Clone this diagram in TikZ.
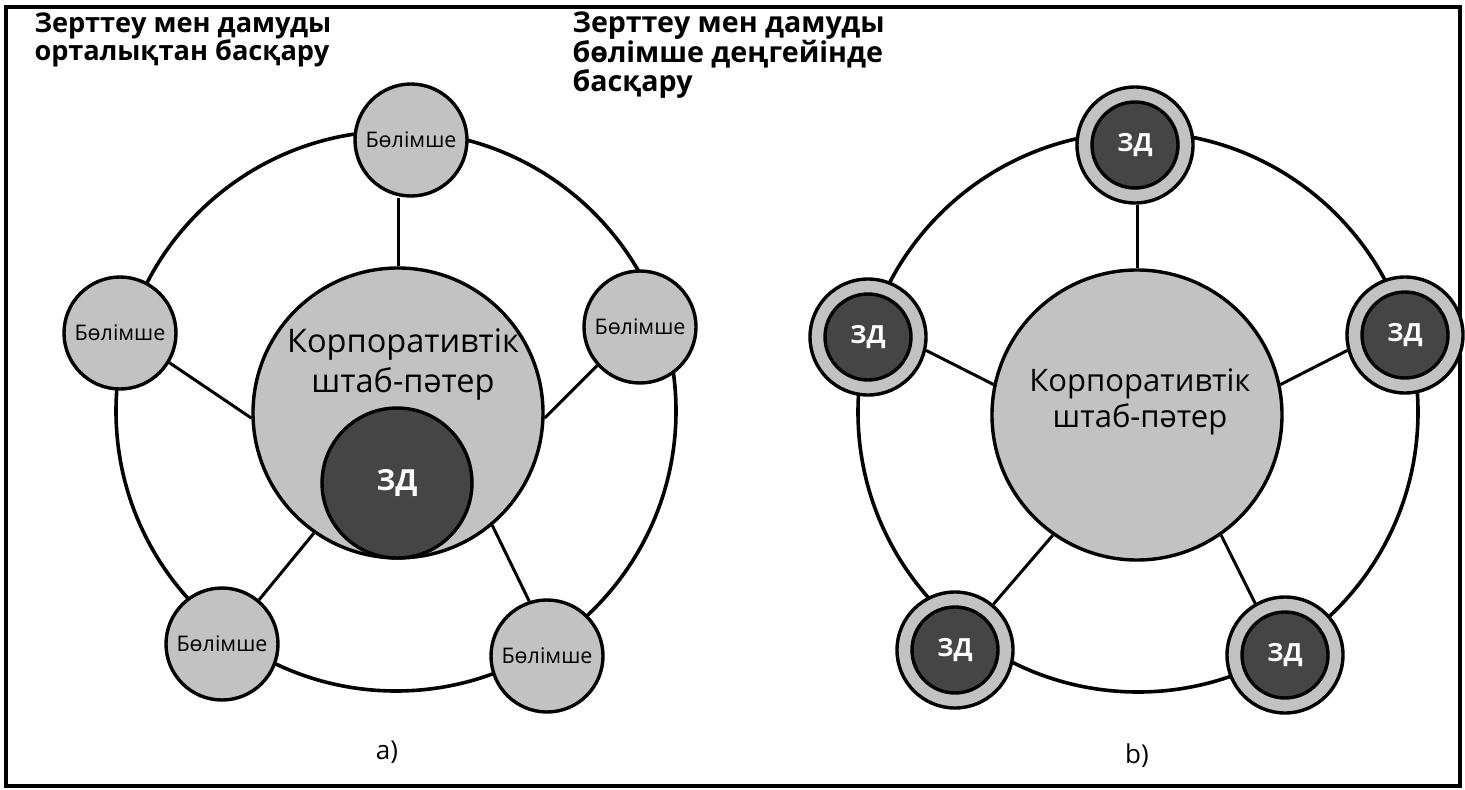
\documentclass[tikz,border=0pt]{standalone}
\usepackage{fontspec}
\setmainfont{Open Sans}
\begin{document}
\begin{tikzpicture}[x=1pt,y=-1pt,
  ring/.style={line width=3.6pt},
  link/.style={line width=3pt},
  unitcircle/.style={circle, draw, line width=3.4pt, fill=lightfill, inner sep=0pt,
    minimum size=112pt, font=\fontsize{21.5}{24}\selectfont},
  hqcircle/.style={circle, draw, line width=3.4pt, fill=lightfill, inner sep=0pt,
    minimum size=290pt},
  hqtext/.style={align=center},
  rdcore/.style={circle, draw, line width=3.4pt, fill=darkfill, inner sep=0pt, text=white},
  rdouter/.style={circle, draw, line width=3.4pt, fill=lightfill, inner sep=0pt,
    minimum size=116pt},
  title/.style={anchor=north west, align=left},
  caption/.style={font=\fontsize{26}{30}\selectfont}
]
\definecolor{lightfill}{HTML}{C2C2C2}
\definecolor{darkfill}{HTML}{454545}
\useasboundingbox (0,0) rectangle (1465,790);
\draw[line width=3.2pt] (6,7) rectangle (1460,786);

% ---------- centralised R&D ----------
\node[title, font=\bfseries\fontsize{27.2}{28}\selectfont] (tA) at (31,9) {Зерттеу мен дамуды\\орталықтан басқару};
\draw[ring] (396,411) circle [radius=280];
\node[hqcircle] (hqA) at (398,413) {};
\node[hqtext, font=\fontsize{32.5}{40}\selectfont] (hqAtxt) at (403,364) {Корпоративтік\\штаб-пәтер};
\node[rdcore, minimum size=150pt, font=\bfseries\fontsize{29}{32}\selectfont] (rdA) at (397,483) {ЗД};
\node[unitcircle] (uA1) at (411,140) {Бөлімше};
\node[unitcircle] (uA2) at (120,333) {Бөлімше};
\node[unitcircle] (uA3) at (640,327) {Бөлімше};
\node[unitcircle] (uA4) at (222,644) {Бөлімше};
\node[unitcircle] (uA5) at (547,656) {Бөлімше};
\draw[link] (hqA.north) -- (hqA.north |- uA1.south);
\draw[link] (hqA.182) -- (uA2.329);
\draw[link] (hqA.358) -- (uA3.222);
\draw[link] (hqA.235) -- (uA4.50);
\draw[link] (hqA.310) -- (uA5.108);
\node[caption] (capA) at (387,752) {a)};

% ---------- divisional R&D ----------
\node[title, font=\bfseries\fontsize{28.6}{26.5}\selectfont] (tB) at (569,8) {Зерттеу мен дамуды\\бөлімше деңгейінде\\басқару};
\draw[ring] (1138,412) circle [radius=280];
\node[hqcircle] (hqB) at (1137,415) {};
\node[hqtext, font=\fontsize{31}{36}\selectfont] (hqBtxt) at (1140,402) {Корпоративтік\\штаб-пәтер};
\foreach \n/\px/\py in {1/1135/145, 2/868/337, 3/1405/335, 4/955/650, 5/1285/655}{
  \node[rdouter] (oB\n) at (\px,\py) {};
  \node[rdcore, minimum size=86pt, font=\bfseries\fontsize{25}{28}\selectfont] (dB\n) at (\px,\py) {ЗД};
}
\draw[link] (hqB.north) -- (hqB.north |- oB1.south);
\draw[link] (hqB.168) -- (oB2.347);
\draw[link] (hqB.12) -- (oB3.195);
\draw[link] (hqB.235) -- (oB4.50);
\draw[link] (hqB.305) -- (oB5.120);
\node[caption] (capB) at (1137,756) {b)};
\end{tikzpicture}
\end{document}
